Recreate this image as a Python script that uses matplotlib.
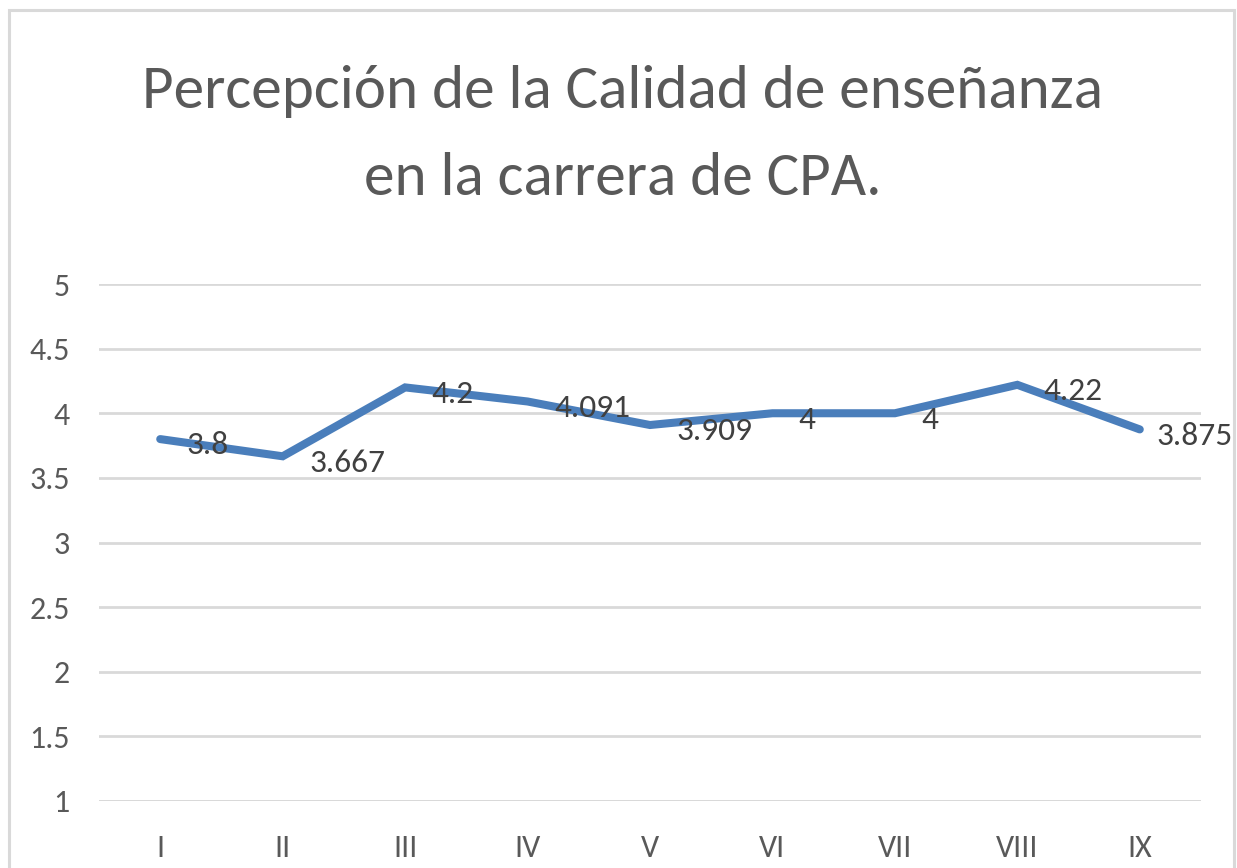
import matplotlib
matplotlib.use("Agg")
import matplotlib.pyplot as plt
from matplotlib.patches import Rectangle

# =========================
# DATA
# =========================
semesters = ["I", "II", "III", "IV", "V", "VI", "VII", "VIII", "IX"]
scores = [3.8, 3.667, 4.2, 4.091, 3.909, 4, 4, 4.22, 3.875]
score_labels = ["3.8", "3.667", "4.2", "4.091", "3.909", "4", "4", "4.22", "3.875"]
y_ticks = [1, 1.5, 2, 2.5, 3, 3.5, 4, 4.5, 5]
y_tick_labels = ["1", "1.5", "2", "2.5", "3", "3.5", "4", "4.5", "5"]

title_lines = ["Percepción de la Calidad de enseñanza", "en la carrera de CPA."]

# =========================
# STYLE
# =========================
plt.rcParams["font.family"] = ["Carlito", "DejaVu Sans"]
text_gray = "#595959"
label_gray = "#404040"
grid_gray = "#d9d9d9"
line_blue = "#4a7ebb"

W, H = 1237, 868
fig = plt.figure(figsize=(W / 100, H / 100), dpi=100, facecolor="white")

# chart border (bottom edge falls outside the picture)
fig.patches.append(Rectangle((9 / W, -0.05), (1234 - 9) / W, 1.05 - 10 / H,
                             transform=fig.transFigure, fill=False,
                             edgecolor=grid_gray, linewidth=2.2))

# plot area in pixels: x 99..1201, y 284 (5) .. 801 (1)
ax = fig.add_axes([99 / W, 1 - 801 / H, (1201 - 99) / W, (801 - 284) / H])

x = list(range(len(semesters)))
ax.plot(x, scores, color=line_blue, linewidth=5.8, solid_capstyle="round",
        solid_joinstyle="miter", zorder=3)

# data labels to the right of each point (last one pulled in to stay inside the chart)
for i, (xi, v, lab) in enumerate(zip(x, scores, score_labels)):
    dx = 12 if i == len(x) - 1 else 19
    ax.annotate(lab, (xi, v), xytext=(dx, -11), textcoords="offset points",
                ha="left", va="baseline", fontsize=24, color=label_gray, zorder=4)

ax.set_xlim(-0.5, len(semesters) - 0.5)
ax.set_ylim(1, 5)
ax.set_yticks(y_ticks)
ax.set_yticklabels(y_tick_labels)
ax.set_xticks(x)
ax.set_xticklabels(semesters)
ax.yaxis.grid(True, color=grid_gray, linewidth=2.0)
ax.set_axisbelow(True)
ax.tick_params(axis="both", length=0, labelsize=23, labelcolor=text_gray)
ax.tick_params(axis="y", pad=21)
ax.tick_params(axis="x", pad=24)
for spine in ax.spines.values():
    spine.set_visible(False)
ax.axhline(1, color=grid_gray, linewidth=2.0, zorder=1)

# title, two lines (baselines at 108 and 195 px from the top)
for line, base in zip(title_lines, [108, 195]):
    fig.text(623 / W, 1 - base / H, line, ha="center", va="baseline",
             fontsize=44, color=text_gray)

plt.savefig("out.png", dpi=100, facecolor="white")
plt.close()
